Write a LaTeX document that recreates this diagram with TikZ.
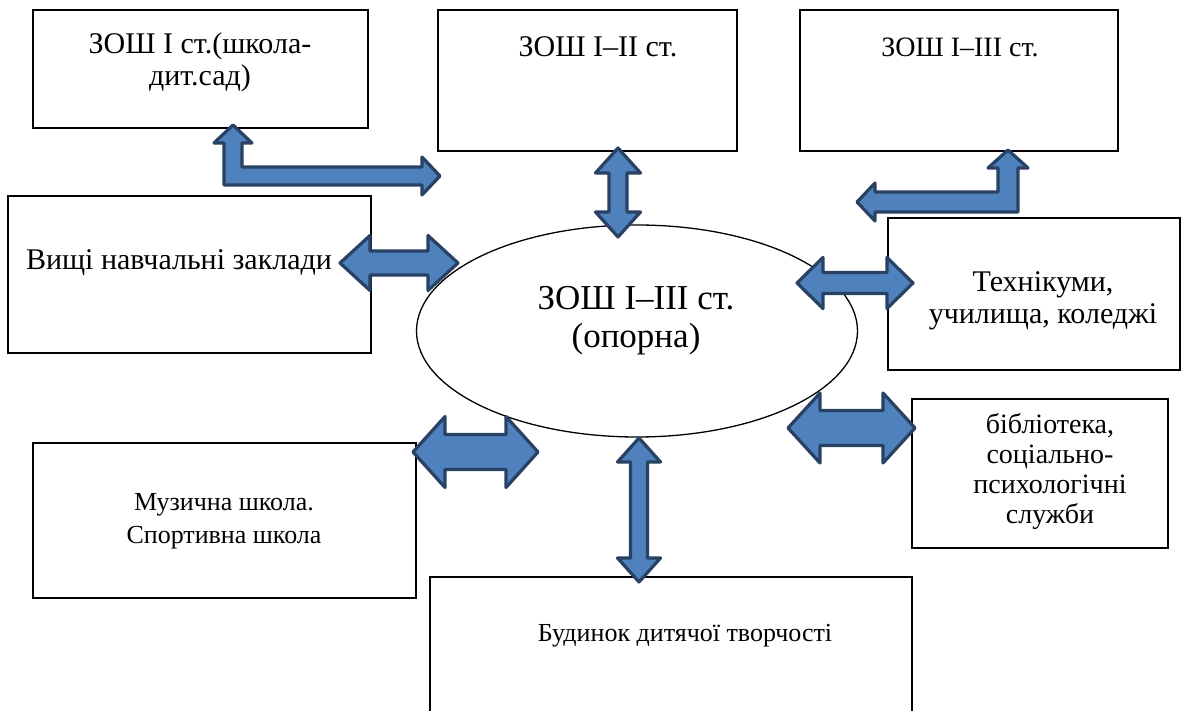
\documentclass[tikz,border=0pt]{standalone}
\usepackage{fontspec}
\setmainfont{Liberation Serif}
\definecolor{arrfill}{RGB}{79,129,189}
\definecolor{arrline}{RGB}{40,65,100}
\newcommand\mkharrow[6]{% x1 x2 y headlen headhalf shafthalf
  \draw[blockarrow] (#1,#3) -- ({#1+#4},{#3-#5}) -- ({#1+#4},{#3-#6}) -- ({#2-#4},{#3-#6}) -- ({#2-#4},{#3-#5}) -- (#2,#3) -- ({#2-#4},{#3+#5}) -- ({#2-#4},{#3+#6}) -- ({#1+#4},{#3+#6}) -- ({#1+#4},{#3+#5}) -- cycle;}
\newcommand\mkvarrow[6]{% y1 y2 x headlen headhalf shafthalf
  \draw[blockarrow] (#3,#1) -- ({#3+#5},{#1+#4}) -- ({#3+#6},{#1+#4}) -- ({#3+#6},{#2-#4}) -- ({#3+#5},{#2-#4}) -- (#3,#2) -- ({#3-#5},{#2-#4}) -- ({#3-#6},{#2-#4}) -- ({#3-#6},{#1+#4}) -- ({#3-#5},{#1+#4}) -- cycle;}
\tikzset{
  box/.style={draw=black, line width=1.3pt, fill=white},
  txt/.style={align=center, font=\fontsize{26}{33}\selectfont, inner sep=0pt},
  txtb/.style={align=center, font=\fontsize{30}{32}\selectfont, inner sep=0pt},
  txtc/.style={align=center, font=\fontsize{28}{30}\selectfont, inner sep=0pt},
  bigtxt/.style={align=center, font=\fontsize{35}{38}\selectfont, inner sep=0pt},
  blockarrow/.style={fill=arrfill, draw=arrline, line width=3.2pt, line join=round},
}
\begin{document}
\begin{tikzpicture}[x=1pt,y=-1pt]
\useasboundingbox (0,0) rectangle (1188,711);
% boxes
\draw[box] (33,10) rectangle (368,128);
\node[txtb] (t1) at (200,62) {ЗОШ I ст.(школа-\\дит.сад)};
\draw[box] (438,10) rectangle (737,151);
\node[txtb] (t2) at (598,47) {ЗОШ I–II ст.};
\draw[box] (800,10) rectangle (1118,151);
\node[txtc] (t3) at (960,47) {ЗОШ I–III ст.};
\draw[box] (8,196) rectangle (371,353);
\node[txtb] (t4) at (179,263) {Вищі навчальні заклади};
\draw[box] (888,218) rectangle (1180,370);
\node[txtb] (t5) at (1043,301) {Технікуми,\\училища, коледжі};
\draw[box] (912,399) rectangle (1168,548);
\node[txtc] (t6) at (1050,471) {бібліотека,\\соціально-\\психологічні\\служби};
\draw[box] (33,443) rectangle (416,598);
\node[txt] (t7) at (224,521) {Музична школа.\\Спортивна школа};
\draw[box] (430,577) rectangle (912,716);
\node[txt] (t8) at (685,636) {Будинок дитячої творчості};
% central ellipse
\draw[box] (637,331) ellipse [x radius=220.5, y radius=106];
\node[bigtxt] (c) at (636,321) {ЗОШ I–III ст.\\(опорна)};
% L-shaped arrows
\draw[blockarrow] (233,125) -- (252,143) -- (242,143) -- (242,167) -- (422,167) -- (422,157) -- (440,176) -- (422,195) -- (422,185) -- (224,185) -- (224,143) -- (214,143) -- cycle;
\draw[blockarrow] (1008,150) -- (1028,168) -- (1018,168) -- (1018,212) -- (875,212) -- (875,221) -- (857,202) -- (875,183) -- (875,192) -- (998,192) -- (998,168) -- (988,168) -- cycle;
% straight double arrows
\mkharrow{340}{458}{263}{30}{27.5}{12}
\mkharrow{797}{913}{283}{26}{25.5}{10.5}
\mkharrow{788}{915}{428}{32}{35}{17.5}
\mkharrow{413}{538}{452}{32}{35.5}{17.5}
\mkvarrow{148}{237}{618}{25}{22.5}{9}
\mkvarrow{438}{582}{639}{24}{21.5}{8.5}
\end{tikzpicture}
\end{document}
